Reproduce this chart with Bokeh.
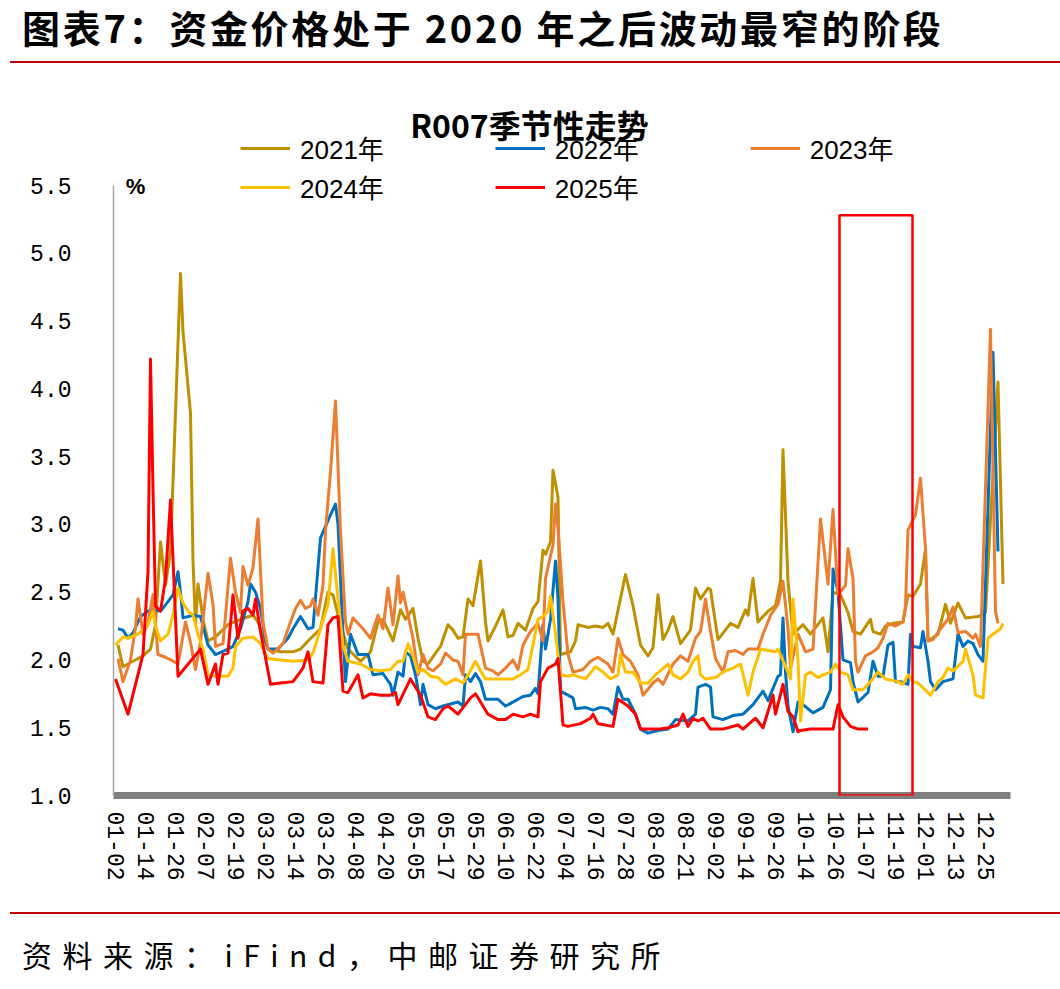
from bokeh.plotting import figure
from bokeh.models import (Range1d, FixedTicker, NumeralTickFormatter, Legend, LegendItem,
                          Label, BoxAnnotation, Div)
from bokeh.layouts import column
from bokeh.embed import file_html
from bokeh.resources import INLINE

# ---------------- data (x = trading-day index, 12 days between labelled ticks) ----------------
TICK_LABELS = ["01-02", "01-14", "01-26", "02-07", "02-19", "03-02", "03-14", "03-26", "04-08",
               "04-20", "05-05", "05-17", "05-29", "06-10", "06-22", "07-04", "07-16", "07-28",
               "08-09", "08-21", "09-02", "09-14", "09-26", "10-14", "10-26", "11-07", "11-19",
               "12-01", "12-13", "12-25"]
TICK_STEP = 12
X_MAX = 358

R2021 = [(1,2.11),(3,1.95),(7,1.99),(11,2.03),(14,2.08),(16,2.26),(18,2.87),(20,2.55),(22,2.80),(26,4.85),
         (27,4.42),(30,3.82),(31,2.73),(32,2.26),(33,2.56),(35,2.30),(37,2.14),(40,2.17),(45,2.26),(50,2.30),
         (55,2.33),(57,2.28),(61,2.08),(66,2.06),(71,2.06),(74,2.08),(77,2.14),(82,2.23),(85,2.50),(87,2.48),
         (90,2.26),(93,2.08),(98,1.99),(102,2.06),(105,2.28),(107,2.30),(111,2.14),(114,2.37),(116,2.30),(119,2.38),
         (121,2.16),(123,1.99),(125,1.97),(128,2.05),(130,2.10),(133,2.26),(135,2.22),(137,2.16),(139,2.17),(141,2.45),
         (143,2.40),(146,2.73),(148,2.28),(149,2.14),(152,2.25),(155,2.37),(157,2.17),(159,2.18),(161,2.27),(164,2.22),
         (167,2.38),(169,2.43),(171,2.81),(172,2.78),(174,2.87),(175,3.40),(177,3.20),(178,2.04),(182,2.06),(184,2.14),
         (185,2.26),(189,2.24),(192,2.25),(195,2.24),(197,2.27),(199,2.19),(204,2.63),(207,2.40),(210,2.11),(213,2.03),
         (215,2.09),(217,2.48),(219,2.15),(221,2.22),(223,2.32),(226,2.12),(230,2.22),(232,2.53),(234,2.45),(237,2.53),
         (238,2.52),(241,2.15),(246,2.27),(249,2.24),(252,2.37),(253,2.33),(255,2.60),(257,2.28),(261,2.36),(264,2.40),
         (266,2.58),(267,3.55),(269,2.58),(271,2.19),(275,2.26),(278,2.19),(283,2.31),(285,2.06),(287,2.50),(290,2.48),
         (293,2.35),(295,2.21),(298,2.19),(302,2.30),(303,2.21),(306,2.19),(308,2.25),(311,2.27),(315,2.28),(317,2.48),
         (319,2.47),(322,2.56),(324,2.82),(325,2.14),(329,2.19),(332,2.41),(334,2.27),(337,2.42),(340,2.31),(345,2.32),
         (348,2.35),(353,4.05),(355,2.56)]

R2022 = [(1,2.23),(3,2.22),(5,2.16),(7,2.20),(10,2.32),(13,2.36),(15,2.37),(18,2.36),(21,2.43),(23,2.48),
         (25,2.65),(26,2.50),(27,2.31),(31,2.33),(34,2.32),(37,2.11),(40,2.04),(45,2.08),(47,2.10),(50,2.23),
         (53,2.43),(54,2.56),(56,2.50),(58,2.38),(60,2.14),(61,2.08),(65,2.08),(69,2.16),(71,2.23),(74,2.32),
         (77,2.23),(79,2.24),(82,2.90),(86,3.07),(88,3.15),(89,3.00),(91,2.19),(92,1.84),(94,2.19),(97,2.04),
         (101,2.04),(103,1.89),(107,1.90),(110,1.82),(111,1.74),(113,1.91),(115,1.88),(116,2.06),(118,2.03),(120,1.89),
         (122,1.67),(123,1.82),(125,1.67),(128,1.64),(131,1.66),(137,1.69),(139,1.66),(140,1.89),(142,1.84),(144,1.90),
         (146,1.84),(148,1.71),(153,1.71),(156,1.66),(160,1.70),(163,1.73),(166,1.74),(168,1.79),(169,1.75),(171,2.26),
         (172,2.08),(174,2.30),(176,2.73),(177,2.45),(178,1.77),(181,1.74),(183,1.72),(184,1.64),(188,1.65),(191,1.63),
         (194,1.65),(197,1.64),(199,1.60),(201,1.80),(203,1.71),(205,1.71),(208,1.60),(210,1.49),(213,1.46),(217,1.48),
         (221,1.49),(224,1.56),(229,1.55),(232,1.60),(233,1.80),(236,1.82),(238,1.80),(239,1.58),(243,1.56),(247,1.59),
         (251,1.60),(255,1.67),(259,1.77),(261,1.70),(265,1.88),(266,1.89),(267,2.31),(268,1.91),(269,1.66),(271,1.47),
         (273,1.69),(275,1.67),(279,1.61),(283,1.65),(286,1.78),(287,2.67),(289,2.50),(291,2.00),(294,1.98),(295,1.84),
         (297,1.69),(301,1.76),(303,1.99),(305,1.88),(307,1.88),(309,2.11),(311,2.13),(312,1.84),(314,1.84),(317,1.82),
         (318,2.19),(319,2.10),(322,2.09),(323,2.21),(325,1.99),(326,1.84),(328,1.78),(331,1.84),(335,1.86),(337,2.19),
         (339,2.10),(341,2.14),(343,2.12),(345,2.04),(347,1.99),(351,4.27),(353,2.80)]

R2023 = [(1,2.01),(3,1.84),(6,2.00),(8,2.24),(9,2.45),(11,2.19),(13,2.27),(15,2.48),(17,2.04),(20,2.02),
         (23,1.99),(25,1.97),(28,2.28),(30,2.13),(32,1.93),(34,2.13),(37,2.64),(39,2.41),(40,2.10),(43,2.12),
         (46,2.75),(48,2.50),(50,2.35),(51,2.69),(53,2.55),(55,2.68),(57,3.04),(59,2.28),(61,2.08),(63,2.05),
         (67,2.12),(70,2.28),(72,2.38),(74,2.44),(76,2.38),(78,2.40),(79,2.45),(81,2.33),(83,2.55),(84,2.95),
         (86,3.39),(88,3.91),(90,2.95),(92,2.28),(93,2.19),(95,2.31),(99,2.23),(102,2.16),(105,2.33),(107,2.23),
         (109,2.53),(111,2.26),(113,2.62),(114,2.42),(115,2.50),(117,2.33),(119,2.16),(121,1.89),(123,2.04),(125,1.94),
         (127,1.92),(130,1.97),(132,2.05),(135,2.00),(137,1.99),(139,1.89),(140,2.19),(143,2.19),(145,2.19),(148,1.94),
         (151,1.92),(153,1.89),(156,1.94),(159,2.00),(161,1.93),(163,2.11),(166,2.21),(169,2.27),(171,2.14),(172,2.60),
         (175,2.85),(176,3.15),(177,2.97),(179,2.43),(181,2.04),(183,1.91),(187,1.93),(190,1.99),(193,2.02),(197,1.97),
         (199,1.91),(201,2.16),(203,2.04),(206,1.99),(209,1.89),(211,1.74),(215,1.83),(217,1.86),(219,1.82),(223,1.97),
         (226,2.03),(229,1.99),(232,2.16),(234,2.21),(236,2.45),(238,2.21),(240,2.01),(243,1.91),(245,2.06),(248,2.07),
         (251,2.04),(253,2.08),(257,2.08),(259,2.19),(262,2.33),(265,2.41),(267,2.58),(269,2.23),(270,1.94),(273,2.19),
         (276,2.06),(279,2.08),(282,3.04),(285,2.56),(287,3.11),(289,2.48),(292,2.55),(293,2.82),(295,2.60),(296,1.99),
         (297,1.91),(300,2.03),(303,2.06),(305,2.09),(307,2.16),(309,2.27),(312,2.25),(315,2.28),(316,2.40),(317,2.96),
         (320,3.07),(322,3.34),(324,2.82),(325,2.14),(327,2.15),(330,2.23),(333,2.30),(335,2.39),(337,2.20),(340,2.21),
         (343,2.16),(344,2.19),(346,2.10),(350,4.44),(352,2.36),(353,2.27)]

R2024 = [(0,2.11),(3,2.17),(5,2.16),(9,2.19),(13,2.26),(15,2.36),(16,2.25),(18,2.14),(21,2.19),(23,2.33),
         (25,2.53),(27,2.42),(29,2.36),(31,2.33),(33,2.19),(35,2.08),(37,1.89),(40,1.88),(45,1.88),(47,1.94),
         (48,2.10),(51,2.16),(55,2.17),(58,2.12),(61,2.01),(66,2.00),(71,1.99),(77,2.00),(79,2.05),(82,2.23),
         (85,2.41),(87,2.82),(89,2.45),(91,2.11),(93,1.99),(98,1.97),(102,1.93),(106,1.92),(110,1.93),(113,1.99),
         (115,1.99),(117,2.12),(119,2.03),(121,1.91),(123,1.93),(126,1.88),(129,1.87),(132,1.82),(136,1.86),(139,1.83),
         (141,1.89),(144,1.99),(146,1.92),(148,1.86),(153,1.86),(156,1.86),(159,1.86),(162,1.89),(165,1.93),(167,2.11),
         (169,2.30),(171,2.32),(173,2.36),(174,2.47),(176,2.19),(178,1.89),(181,1.88),(183,1.89),(188,1.86),(192,1.95),
         (195,1.91),(198,1.86),(201,1.89),(202,2.04),(204,1.91),(207,1.91),(210,1.83),(213,1.83),(216,1.89),(221,1.97),
         (223,1.89),(226,1.86),(229,1.91),(231,1.99),(233,2.03),(234,1.89),(236,1.86),(240,1.87),(243,1.91),(247,1.94),
         (250,1.97),(253,1.74),(255,1.91),(258,2.08),(261,2.07),(264,2.06),(265,2.08),(269,1.91),(270,1.86),(271,2.45),
         (273,2.00),(274,1.55),(276,1.89),(278,1.91),(281,1.87),(283,1.89),(286,1.91),(288,1.97),(290,1.91),(293,1.89),
         (295,1.78),(299,1.78),(302,1.84),(305,1.91),(308,1.86),(313,1.84),(315,1.82),(317,1.89),(319,1.84),(321,1.83),
         (326,1.74),(329,1.84),(331,1.87),(333,1.94),(335,1.92),(339,1.99),(340,2.08),(343,1.89),(344,1.74),(347,1.72),
         (349,2.16),(351,2.19),(354,2.23),(355,2.27)]

R2025 = [(0,1.86),(5,1.60),(11,2.04),(13,2.65),(14,4.22),(15,3.26),(16,2.40),(18,2.36),(20,2.60),(22,3.18),
         (25,1.88),(34,2.08),(37,1.82),(40,1.97),(41,1.82),(43,2.04),(45,2.05),(47,2.48),(49,2.16),(51,2.36),
         (53,2.38),(55,2.33),(56,2.45),(58,2.21),(62,1.82),(66,1.83),(71,1.84),(75,1.94),(77,2.06),(79,1.84),
         (83,1.83),(85,2.26),(87,2.31),(89,2.32),(91,1.77),(93,1.76),(97,1.89),(99,1.72),(102,1.75),(106,1.74),
         (110,1.74),(112,1.76),(113,1.67),(118,1.86),(122,1.74),(125,1.58),(128,1.56),(131,1.64),(133,1.66),(137,1.60),
         (142,1.72),(144,1.75),(149,1.60),(153,1.56),(156,1.56),(159,1.60),(163,1.58),(166,1.60),(169,1.58),(170,1.84),
         (173,1.94),(176,1.97),(177,2.01),(179,1.52),(181,1.51),(186,1.53),(190,1.57),(191,1.60),(193,1.53),(199,1.51),
         (201,1.71),(205,1.66),(208,1.60),(210,1.49),(218,1.49),(221,1.50),(225,1.52),(227,1.60),(229,1.51),(231,1.57),
         (233,1.55),(235,1.57),(238,1.49),(243,1.49),(249,1.52),(251,1.49),(256,1.57),(259,1.50),(263,1.74),(264,1.60),
         (267,1.82),(269,1.62),(271,1.58),(273,1.47),(274,1.48),(278,1.49),(283,1.49),(287,1.49),(289,1.67),(291,1.58),
         (294,1.51),(297,1.49),(301,1.49)]

SERIES = [("2021年", R2021, "#BF9000"),
          ("2022年", R2022, "#0070C0"),
          ("2023年", R2023, "#ED7D31"),
          ("2024年", R2024, "#FFC000"),
          ("2025年", R2025, "#FF0000")]

# highlighted window (10-26 .. 11-19), value top of box
HILITE_LEFT, HILITE_RIGHT, HILITE_TOP = 289.6, 318.8, 5.28

Y_MIN, Y_MAX = 1.0, 5.5
Y_TICKS = [1.0, 1.5, 2.0, 2.5, 3.0, 3.5, 4.0, 4.5, 5.0, 5.5]

CJK = "Noto Sans CJK SC"
MONO = "Liberation Mono"

# ---------------- figure ----------------
# axis spans 610 px for 1.0..5.5; the frame extends higher so title/legend sit inside it
AXIS_PX = 610
FRAME_H = 731
y_end = Y_MIN + (Y_MAX - Y_MIN) * FRAME_H / AXIS_PX

p = figure(width=1060, height=848, x_range=Range1d(-0.8, X_MAX), y_range=Range1d(Y_MIN, y_end),
           output_backend="svg", toolbar_location=None, tools="",
           min_border_left=113, min_border_right=50, min_border_top=0, min_border_bottom=117)
p.frame_width = 897
p.frame_height = FRAME_H
p.outline_line_color = None
p.xgrid.visible = False
p.ygrid.visible = False
p.background_fill_color = "white"
p.border_fill_color = "white"

renderers = {}
for name, data, color in SERIES:
    xs = [d[0] for d in data]
    ys = [d[1] for d in data]
    r = p.line(xs, ys, line_color=color, line_width=3, line_join="round")
    renderers[name] = r

# axes
xa = p.xaxis[0]
xa.ticker = FixedTicker(ticks=[i * TICK_STEP for i in range(len(TICK_LABELS))])
xa.major_label_overrides = {i * TICK_STEP: lab for i, lab in enumerate(TICK_LABELS)}
xa.major_label_orientation = "vertical"
xa.major_label_text_font = MONO
xa.major_label_text_font_size = "23px"
xa.major_label_text_color = "black"
xa.major_label_standoff = 10
xa.axis_line_color = "#808080"
xa.axis_line_width = 7
xa.major_tick_line_color = None
xa.minor_tick_line_color = None

ya = p.yaxis[0]
ya.ticker = FixedTicker(ticks=Y_TICKS)
ya.formatter = NumeralTickFormatter(format="0.0")
ya.bounds = (Y_MIN, Y_MAX)
ya.major_label_text_font = MONO
ya.major_label_text_font_size = "23px"
ya.major_label_text_color = "black"
ya.major_label_standoff = 36
ya.axis_line_color = "#A6A6A6"
ya.axis_line_width = 1.5
ya.major_tick_line_color = None
ya.minor_tick_line_color = None

# highlight box
p.add_layout(BoxAnnotation(left=HILITE_LEFT, right=HILITE_RIGHT, bottom=Y_MIN, top=HILITE_TOP,
                           fill_alpha=0, line_color="#FF0000", line_alpha=1.0, line_width=2.5))

# chart title and unit
p.add_layout(Label(x=416, y=672, x_units="screen", y_units="screen", text="R007季节性走势",
                   text_align="center", text_baseline="middle", text_font=CJK,
                   text_font_size="32px", text_font_style="bold", text_color="black"))
p.add_layout(Label(x=22, y=609, x_units="screen", y_units="screen", text="%",
                   text_align="center", text_baseline="middle", text_font="Liberation Sans",
                   text_font_size="22px", text_font_style="bold", text_color="black"))

# legends (two rows)
def make_legend(names, loc):
    return Legend(items=[LegendItem(label=n, renderers=[renderers[n]]) for n in names],
                  orientation="horizontal", location=loc, padding=0, margin=0, spacing=111,
                  glyph_width=50, glyph_height=30, label_height=30, label_standoff=10,
                  label_text_font="Liberation Sans, Noto Sans CJK SC", label_text_font_size="26px",
                  label_text_color="black", background_fill_alpha=0, border_line_alpha=0)

p.add_layout(make_legend(["2021年", "2022年", "2023年"], (127, 629)))
p.add_layout(make_legend(["2024年", "2025年"], (127, 590)))

# ---------------- page header / footer ----------------
top = Div(text=("<div style=\"position:relative;width:1060px;height:64px;\">"
                "<div style=\"position:absolute;left:22px;top:0px;font-family:'Noto Sans CJK SC';"
                "font-weight:bold;font-size:38px;letter-spacing:2.7px;white-space:nowrap;"
                "color:#000;\">图表7：资金价格处于 2020 年之后波动最窄的阶段</div>"
                "<div style=\"position:absolute;left:10px;top:61px;width:1050px;height:2px;"
                "background:#C00000;\"></div></div>"),
          width=1060, height=64, margin=0)
bottom = Div(text=("<div style=\"position:relative;width:1060px;height:77px;\">"
                   "<div style=\"position:absolute;left:10px;top:0px;width:1050px;height:2px;"
                   "background:#C00000;\"></div>"
                   "<div style=\"position:absolute;left:22px;top:22px;font-family:'Noto Sans CJK SC';"
                   "font-size:30px;line-height:40px;letter-spacing:10.5px;white-space:nowrap;color:#000;\">"
                   "资料来源：iFind，中邮证券研究所</div></div>"),
             width=1060, height=77, margin=0)

layout = column(top, p, bottom, spacing=0)
open("out.html", "w").write(file_html(layout, INLINE))
